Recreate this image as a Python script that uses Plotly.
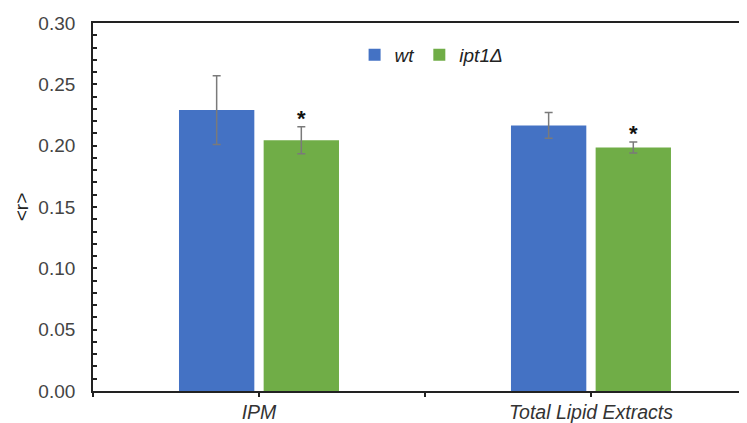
import plotly.graph_objects as go

categories = ["IPM", "Total Lipid Extracts"]
series_names = ["wt", "ipt1Δ"]
wt_values = [0.229, 0.2165]
wt_errors = [0.028, 0.0105]
ipt_values = [0.2045, 0.1985]
ipt_errors = [0.011, 0.0045]
sig_marks = ["*", "*"]
y_ticks = [0.00, 0.05, 0.10, 0.15, 0.20, 0.25, 0.30]

colors = ["#4472C4", "#70AD47"]
FONT = "Liberation Sans, Arial, sans-serif"

xpos = list(range(len(categories)))
bargap = 0.49
bargroupgap = 0.11

fig = go.Figure()
for name, vals, errs, col in [(series_names[0], wt_values, wt_errors, colors[0]),
                              (series_names[1], ipt_values, ipt_errors, colors[1])]:
    fig.add_trace(go.Bar(
        x=xpos, y=vals, name=name, marker_color=col, marker_line_width=0,
        error_y=dict(type="data", array=errs, visible=True, color="#7a7a7a",
                     thickness=1.5, width=4),
    ))

# asterisk positions derived from group layout
slot = (1 - bargap) / 2
offset = slot / 2
for i, m in enumerate(sig_marks):
    fig.add_annotation(x=xpos[i] + offset, y=ipt_values[i] + ipt_errors[i],
                       text="<b>" + m + "</b>", showarrow=False, yanchor="bottom", yshift=-6,
                       font=dict(family=FONT, size=22, color="#111"))

# page body has an 8px margin, so the figure is sized to end at the window edge
fig.update_layout(
    width=739, height=415,
    margin=dict(l=85, r=0, t=15, b=32, autoexpand=False),
    paper_bgcolor="white", plot_bgcolor="white",
    barmode="group", bargap=bargap, bargroupgap=bargroupgap,
    font=dict(family=FONT, size=19, color="#444"),
    showlegend=True,
    legend=dict(orientation="h", x=0.40, y=0.913, xanchor="left", yanchor="middle",
                font=dict(family=FONT, size=19, color="#222", style="italic"),
                itemwidth=30, bgcolor="rgba(0,0,0,0)", traceorder="normal"),
    xaxis=dict(
        range=[-0.5, 1.47], tickmode="array", tickvals=[-0.5, 0, 0.5, 1, 1.5],
        ticktext=["", "<i>IPM</i>", "", "<i>Total Lipid Extracts</i>", ""],
        ticks="outside", ticklen=4, tickcolor="#222", tickwidth=1.5,
        showline=True, linecolor="#222", linewidth=1.8, mirror=True,
        showgrid=False, zeroline=False, automargin=False, ticklabelstandoff=-1,
        tickfont=dict(family=FONT, size=19.5, color="#333"),
    ),
    yaxis=dict(
        range=[0, 0.30], tickvals=y_ticks, tickformat=".2f",
        ticks="inside", ticklen=4, tickcolor="#222", tickwidth=1.5,
        minor=dict(dtick=0.01, ticks="inside", ticklen=4, tickcolor="#222", tickwidth=1.5),
        showline=True, linecolor="#222", linewidth=1.8,
        showgrid=False, zeroline=False, automargin=False, ticklabelstandoff=12,
        tickfont=dict(family=FONT, size=19, color="#444"),
        title=dict(text="&lt;r&gt;", standoff=5,
                   font=dict(family=FONT, size=19, color="#222")),
    ),
)

fig.write_html("out.html")
